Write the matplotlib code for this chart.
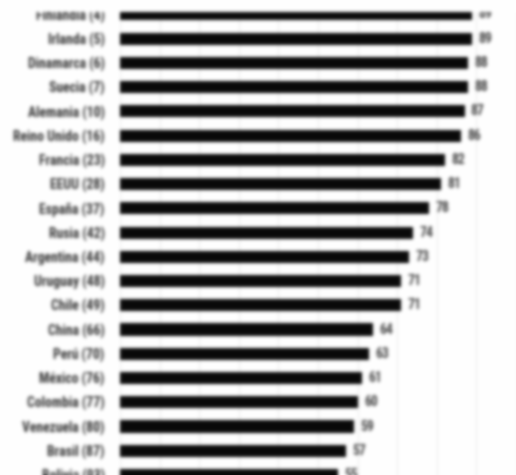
import numpy as np
import matplotlib
matplotlib.use("Agg")
import matplotlib.pyplot as plt
from matplotlib import font_manager
from matplotlib.patches import Rectangle

# Countries (with ranking) and index values
countries = [
    "Finlandia (4)", "Irlanda (5)", "Dinamarca (6)", "Suecia (7)",
    "Alemania (10)", "Reino Unido (16)", "Francia (23)", "EEUU (28)",
    "España (37)", "Rusia (42)", "Argentina (44)", "Uruguay (48)",
    "Chile (49)", "China (66)", "Perú (70)", "México (76)",
    "Colombia (77)", "Venezuela (80)", "Brasil (87)", "Bolivia (93)",
]
values = [89, 89, 88, 88, 87, 86, 82, 81, 78, 74, 73, 71, 71, 64, 63, 61, 60, 59, 57, 55]


def pick_font(names):
    available = {f.name for f in font_manager.fontManager.ttflist}
    for n in names:
        if n in available:
            return n
    return "DejaVu Sans"


narrow = pick_font(["Liberation Sans Narrow", "Roboto Condensed",
                    "Open Sans Condensed", "DejaVu Sans Condensed",
                    "Liberation Sans"])
label_size = 9.8 if narrow != "Liberation Sans" else 8.2

W, H, DPI = 516, 475, 100
fig = plt.figure(figsize=(W / DPI, H / DPI), dpi=DPI, facecolor="white")
ax = fig.add_axes([120 / W, 0, 1 - 120 / W, 1])

pos = np.arange(len(countries))
ax.barh(pos, values, height=0.5, color="#0a0a0a", zorder=3)

for y, v in zip(pos, values):
    ax.text(v + 1.6, y, str(v), va="center", ha="left", fontsize=label_size,
            color="#444444", family=[narrow, "DejaVu Sans"], fontweight="bold")

ax.set_xlim(0, 100)
row_h = 24.35
top_px = 14.5
ax.set_ylim((H - top_px) / row_h, -top_px / row_h)

ax.set_yticks(pos)
ax.set_yticklabels(countries, fontsize=label_size, color="#333333",
                   family=[narrow, "DejaVu Sans"], fontweight="bold")
ax.tick_params(axis="y", length=0, pad=11)
ax.set_xticks(np.arange(0, 101, 10))
ax.tick_params(axis="x", length=0, labelbottom=False)
ax.grid(axis="x", color="#efefef", linewidth=1.0, zorder=0)
ax.grid(axis="y", visible=False)
for s in ax.spines.values():
    s.set_visible(False)

# Blank top margin above the first (partly hidden) row
band = 12
fig.add_artist(Rectangle((0, 1 - band / H), 1, band / H, transform=fig.transFigure,
                         facecolor="white", edgecolor="none", zorder=10))

# Render, then soften the whole image
fig.canvas.draw()
img = np.asarray(fig.canvas.buffer_rgba()).astype(float)[..., :3] / 255.0

sigma = 1.7
r = int(3 * sigma)
k = np.exp(-0.5 * (np.arange(-r, r + 1) / sigma) ** 2)
k /= k.sum()
pad = np.pad(img, ((r, r), (r, r), (0, 0)), mode="edge")
tmp = np.zeros_like(pad)
for i, w in enumerate(k):
    tmp[:, r:-r] += w * pad[:, i:i + pad.shape[1] - 2 * r]
out = np.zeros_like(img)
for i, w in enumerate(k):
    out += w * tmp[i:i + img.shape[0], r:-r]
plt.imsave("out.png", np.clip(out, 0, 1))
